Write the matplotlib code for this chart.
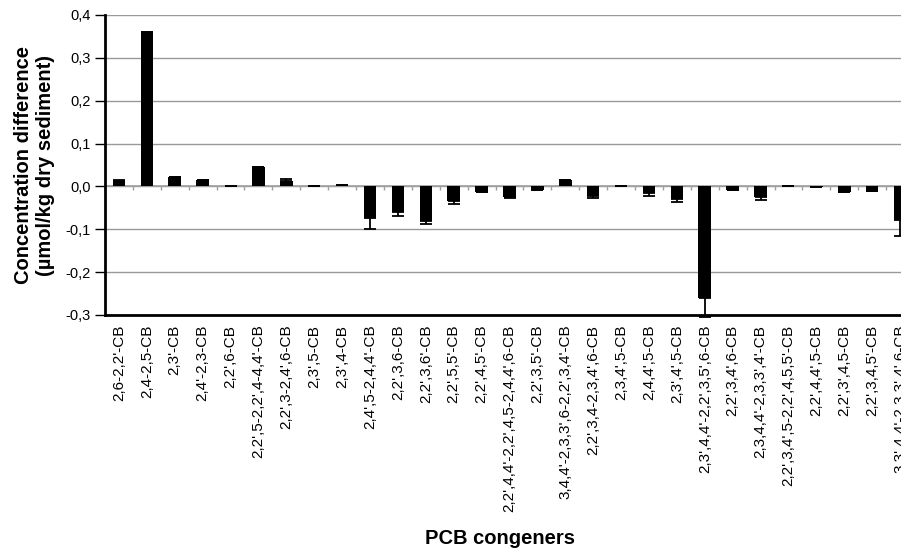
#!/usr/bin/env python3

import matplotlib
matplotlib.use("Agg")
import matplotlib.pyplot as plt
import numpy as np

plt.rcParams['font.family'] = ['Liberation Sans', 'DejaVu Sans']

# PCB congener (co-eluting groups) labels
congeners = [
    "2,6-2,2'-CB", "2,4-2,5-CB", "2,3'-CB", "2,4'-2,3-CB", "2,2',6-CB",
    "2,2',5-2,2',4-4,4'-CB", "2,2',3-2,4',6-CB", "2,3',5-CB", "2,3',4-CB",
    "2,4',5-2,4,4'-CB", "2,2',3,6-CB", "2,2',3,6'-CB", "2,2',5,5'-CB",
    "2,2',4,5'-CB", "2,2',4,4'-2,2',4,5-2,4,4',6-CB", "2,2',3,5'-CB",
    "3,4,4'-2,3,3',6-2,2',3,4'-CB", "2,2',3,4-2,3,4',6-CB", "2,3,4',5-CB",
    "2,4,4',5-CB", "2,3',4',5-CB", "2,3',4,4'-2,2',3,5',6-CB",
    "2,2',3,4',6-CB", "2,3,4,4'-2,3,3',4'-CB", "2,2',3,4',5-2,2',4,5,5'-CB",
    "2,2',4,4',5-CB", "2,2',3',4,5-CB", "2,2',3,4,5'-CB",
    "3,3',4,4'-2,3,3',4',6-CB",
]

# concentration difference (umol/kg dry sediment)
diff = [0.013, 0.360, 0.023, 0.015, 0.002, 0.045, 0.012, 0.001, 0.003,
        -0.074, -0.059, -0.080, -0.035, -0.013, -0.024, -0.008, 0.015,
        -0.023, 0.002, -0.016, -0.030, -0.261, -0.008, -0.024, 0.002,
        -0.001, -0.013, -0.010, -0.078]

# one-sided error (away from zero)
err = [0.001, 0.0, 0.0, 0.0, 0.0, 0.001, 0.006, 0.0, 0.0,
       0.026, 0.009, 0.008, 0.007, 0.001, 0.004, 0.0, 0.0,
       0.003, 0.0, 0.006, 0.007, 0.043, 0.0, 0.007, 0.0,
       0.0, 0.001, 0.0, 0.037]

diff = np.array(diff)
err = np.array(err)
x = np.arange(len(congeners)) + 0.5

fig = plt.figure(figsize=(9.01, 5.5), dpi=100)
ax = fig.add_axes([105 / 901, 1 - 315 / 550, 809 / 901, 300 / 550])

lower = np.where(diff < 0, err, 0)
upper = np.where(diff >= 0, err, 0)
ax.bar(x, diff, width=0.45, color='black', zorder=3)
ax.errorbar(x, diff, yerr=[lower, upper], fmt='none', ecolor='black',
            elinewidth=1.3, capsize=4, capthick=1.3, zorder=4, clip_on=False)

ax.set_xlim(0, len(congeners))
ax.set_ylim(-0.3, 0.4)
yt = np.arange(-0.3, 0.41, 0.1)
ax.set_yticks(yt)
ax.set_yticklabels([f"{v:.1f}".replace('.', ',').replace('-0,0', '0,0') for v in yt],
                   fontsize=10.5)
ax.yaxis.grid(True, color='#999999', linewidth=1, zorder=0)

# category axis at zero with boundary ticks
ax.axhline(0, color='#a0a0a0', linewidth=1.2, zorder=2)
bounds = np.arange(1, len(congeners))
ax.vlines(bounds, -0.008, 0, color='#a0a0a0', linewidth=1, zorder=2)

ax.set_xticks(x)
ax.set_xticklabels(congeners, rotation=90, fontsize=11, va='top', ha='center')
ax.tick_params(axis='x', length=0, pad=7)
ax.tick_params(axis='y', length=7, width=1, color='black', pad=3)

for s in ['top', 'right']:
    ax.spines[s].set_visible(False)
ax.spines['left'].set_linewidth(2)
ax.spines['bottom'].set_linewidth(2)

ax.set_ylabel("Concentration difference\n(\u00b5mol/kg dry sediment)",
              fontsize=14.5, fontweight='bold', labelpad=8)
fig.text(500 / 901, 1 - 538 / 550, "PCB congeners", fontsize=14.5,
         fontweight='bold', ha='center', va='center')

fig.savefig("out.png", dpi=100)
